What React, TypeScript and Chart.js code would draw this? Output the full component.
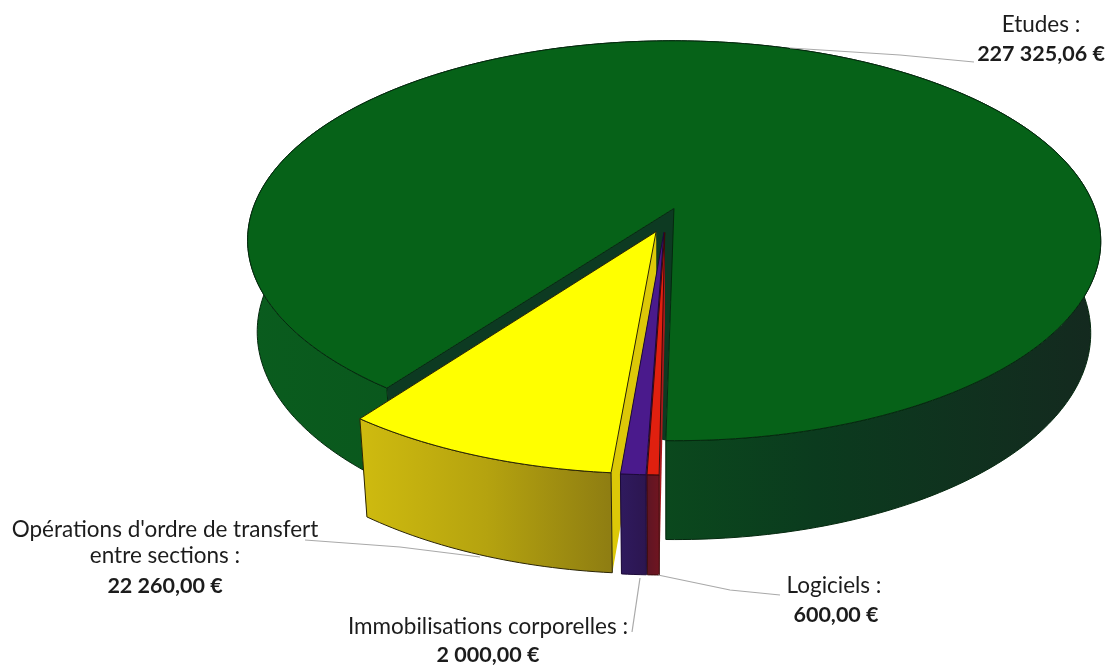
import React, { useEffect, useRef } from "react";
import { Chart, registerables } from "chart.js";

Chart.register(...registerables);

const categories = ["Etudes", "Logiciels", "Immobilisations corporelles", "Opérations d'ordre de transfert entre sections"];
const amounts = [227325.06, 600, 2000, 22260];
const topColors = ["#066218", "#e0200f", "#4a1a8c", "#ffff00"];
const cutColors = ["#0d3a22", "#a81a1c", "#3a1670", "#dcc808"];
const wallStops = [
  ["#0a5c1e", "#0a541c", "#0b3b1e", "#14291f"],
  ["#5e1524", "#701520"],
  ["#2f1a5e", "#2c1650"],
  ["#cfbb0f", "#b5a30f", "#8e7d12"],
];
const edgeColors = ["#04280e", "#3a0a0a", "#1c0a38", "#2a2405"];
// slices painted back to front
const paintOrder = [0, 3, 2, 1];
// the thinnest slice is drawn slightly wider, as the reference's 3D renderer shows it (degrees: low side, high side)
const sweepPad = [[0, 0], [0.5, 0], [0, 0], [0, 0]];

const labelRows = [
  { text: "Etudes :", bold: false, x: 1041, y: 25 },
  { text: "227 325,06 €", bold: true, x: 1041, y: 54 },
  { text: "Opérations d'ordre de transfert", bold: false, x: 165, y: 530 },
  { text: "entre sections :", bold: false, x: 165, y: 556 },
  { text: "22 260,00 €", bold: true, x: 165, y: 586 },
  { text: "Immobilisations corporelles :", bold: false, x: 488, y: 627 },
  { text: "2 000,00 €", bold: true, x: 488, y: 655 },
  { text: "Logiciels :", bold: false, x: 834, y: 586 },
  { text: "600,00 €", bold: true, x: 836, y: 615 },
];
const leaders = [
  [[790, 48], [900, 55], [974, 62]],
  [[305, 540], [400, 547], [480, 557]],
  [[640, 578], [632, 632]],
  [[658, 575], [730, 590], [780, 595]],
];

// projection of the pie plane
const CX = 665.5, CY = 220, R = 425, K = 0.467, PERSP = 0.163, DEPTH = 91, TAPER = 0.023;
const project = (X: number, Y: number, z: number): [number, number] => {
  const w = 1 - (PERSP * Y) / R;
  return [CX + (X / w) * (1 - TAPER * z), CY + (K * Y) / w + (DEPTH * z) / Math.sqrt(w)];
};

const pie3d = {
  id: "pie3d",
  beforeDatasetDraw: () => false,
  afterDatasetsDraw(chart: any) {
    const ctx: CanvasRenderingContext2D = chart.ctx;
    const els = chart.getDatasetMeta(0).data;
    ctx.save();
    ctx.lineJoin = "round";
    paintOrder.forEach((i: number) => {
      const el: any = els[i];
      const s = R / el.outerRadius;
      const off = (el.options.offset || 0) * s;
      const mid = (el.startAngle + el.endAngle) / 2;
      const a0 = el.startAngle - (sweepPad[i][0] * Math.PI) / 180;
      const a1 = el.endAngle + (sweepPad[i][1] * Math.PI) / 180;
      const ox = Math.cos(mid) * off, oy = Math.sin(mid) * off;
      const pt = (a: number, r: number, z: number) => project(ox + r * Math.cos(a), oy + r * Math.sin(a), z);
      const n = Math.max(4, Math.ceil(((a1 - a0) * 180) / Math.PI));
      const angles: number[] = [];
      for (let j = 0; j <= n; j++) angles.push(a0 + ((a1 - a0) * j) / n);

      const path = (pts: [number, number][]) => {
        ctx.beginPath();
        pts.forEach((p, idx) => (idx ? ctx.lineTo(p[0], p[1]) : ctx.moveTo(p[0], p[1])));
        ctx.closePath();
      };
      ctx.lineWidth = 1;
      ctx.strokeStyle = edgeColors[i];

      // dark inside of the gap left by a slice wider than a half turn
      if (a1 - a0 > Math.PI) {
        path([pt(a0, 0, 0), pt(a0, R, 0), pt(a1, R, 0)]);
        ctx.fillStyle = cutColors[i];
        ctx.fill();
      }

      // cut faces
      [a1, a0].forEach((a) => {
        path([pt(a, 0, 0), pt(a, R, 0), pt(a, R, 1), pt(a, 0, 1)]);
        ctx.fillStyle = cutColors[i];
        ctx.fill();
      });

      // outer wall
      const wall: [number, number][] = [
        ...angles.map((a) => pt(a, R, 0)),
        ...angles.slice().reverse().map((a) => pt(a, R, 1)),
      ];
      const xs = wall.map((p) => p[0]);
      const g = ctx.createLinearGradient(Math.min(...xs), 0, Math.max(...xs), 0);
      wallStops[i].forEach((c, j, arr) => g.addColorStop(j / (arr.length - 1), c));
      path(wall);
      ctx.fillStyle = g;
      ctx.fill();
      ctx.stroke();

      // top face
      path([pt(a0, 0, 0), ...angles.map((a) => pt(a, R, 0))]);
      ctx.fillStyle = topColors[i];
      ctx.fill();
      ctx.stroke();
    });

    // leader lines
    ctx.strokeStyle = "#a9a9a9";
    ctx.lineWidth = 1.2;
    leaders.forEach((line) => {
      ctx.beginPath();
      line.forEach((p, idx) => (idx ? ctx.lineTo(p[0], p[1]) : ctx.moveTo(p[0], p[1])));
      ctx.stroke();
    });

    // labels
    ctx.fillStyle = "#1c1c1c";
    ctx.textAlign = "center";
    ctx.textBaseline = "middle";
    labelRows.forEach((row) => {
      ctx.font = row.bold ? "bold 21.5px Lato" : "22.5px Lato";
      ctx.fillText(row.text, row.x, row.y);
    });
    ctx.restore();
  },
};

export default function App() {
  const ref = useRef<HTMLCanvasElement>(null);
  useEffect(() => {
    document.body.style.margin = "0";
    const chart = new Chart(ref.current!, {
      type: "pie",
      data: {
        labels: categories,
        datasets: [{ data: amounts, backgroundColor: topColors, offset: 20 }],
      },
      options: {
        animation: false,
        responsive: false,
        rotation: 216.6,
        plugins: { legend: { display: false }, tooltip: { enabled: false } },
      },
      plugins: [pie3d],
    } as any);
    return () => chart.destroy();
  }, []);
  return <canvas ref={ref} width={1107} height={666} style={{ display: "block" }} />;
}
